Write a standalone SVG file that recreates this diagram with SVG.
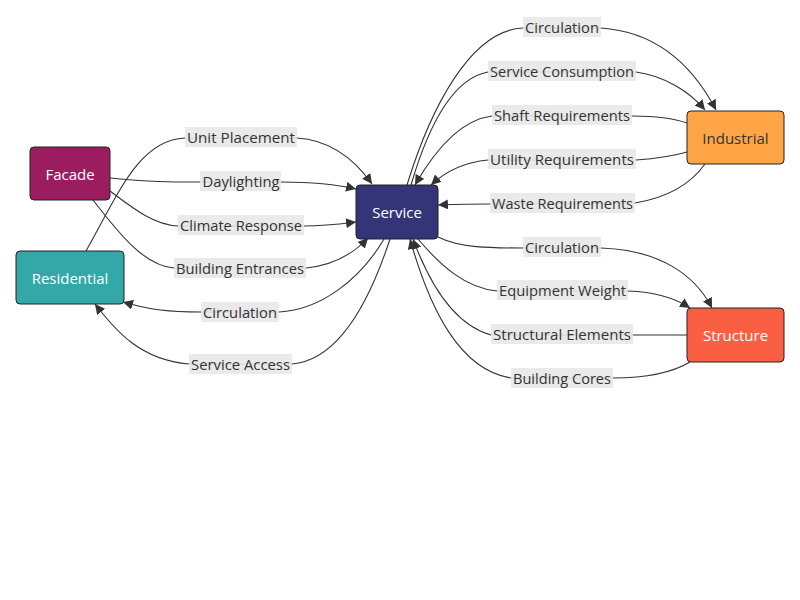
<svg xmlns="http://www.w3.org/2000/svg" width="800" height="600" viewBox="0 0 800 600">
<style>
.edge{fill:none;stroke:#333;stroke-width:1.1}
.lbl rect{fill:#e8e8e8;opacity:0.9}
.lbl text{font-family:"Open Sans","DejaVu Sans",sans-serif;font-size:15px;fill:#333;text-anchor:middle;dominant-baseline:central}
.node rect{stroke:#222;stroke-width:1}
.node text{font-family:"Open Sans","DejaVu Sans",sans-serif;font-size:15px;font-weight:500;text-anchor:middle;dominant-baseline:central;fill:#fff}
</style>
<defs>
<marker id="arr" viewBox="0 0 10 10" refX="10" refY="5" markerWidth="10" markerHeight="10" markerUnits="userSpaceOnUse" orient="auto">
<path d="M0,0 L10,5 L0,10 z" fill="#333"/>
</marker>
</defs>
<rect width="800" height="600" fill="#fff"/>
<g id="connectors">
<path class="edge" marker-end="url(#arr)" d="M86,251 C120,190 140,140 185,138 L297,138 C330,140 355,160 372,184"/>
<path class="edge" marker-end="url(#arr)" d="M110,178 C150,182 170,182 200,182 L281,182 C310,182 335,184 356,189"/>
<path class="edge" marker-end="url(#arr)" d="M110,191 C135,210 155,225 178,226 L304,226 C325,226 340,224 356,222"/>
<path class="edge" marker-end="url(#arr)" d="M93,200 C120,235 145,266 174,268 L306,268 C335,265 355,252 368,238"/>
<path class="edge" marker-end="url(#arr)" d="M384,239 C360,280 320,310 279,312 L201,312 C170,312 150,310 123,302"/>
<path class="edge" marker-end="url(#arr)" d="M390,239 C370,300 340,360 292,364 L189,364 C140,360 115,330 95,304"/>
<path class="edge" marker-end="url(#arr)" d="M407,185 C430,110 470,30 523,28 L601,28 C660,32 695,70 716,110"/>
<path class="edge" marker-end="url(#arr)" d="M411,185 C430,120 455,78 488,72 L636,72 C665,76 690,92 705,110"/>
<path class="edge" marker-end="url(#arr)" d="M687,123 C670,117 650,116 632,116 L492,116 C460,120 435,150 415,185"/>
<path class="edge" marker-end="url(#arr)" d="M687,152 C670,157 650,159 636,160 L488,160 C465,162 445,172 431,185"/>
<path class="edge" marker-end="url(#arr)" d="M705,164 C690,185 665,198 635,203 L490,204 C470,204 455,204 438,205"/>
<path class="edge" marker-end="url(#arr)" d="M438,237 C460,248 490,248 523,248 L601,248 C660,250 695,275 712,308"/>
<path class="edge" marker-end="url(#arr)" d="M418,239 C440,265 465,288 497,291 L628,291 C655,292 675,298 690,308"/>
<path class="edge" marker-end="url(#arr)" d="M687,335 L633,335 L491,335 C455,325 430,285 413,239"/>
<path class="edge" marker-end="url(#arr)" d="M690,362 C670,374 640,378 613,378 L511,378 C460,370 430,310 410,239"/>
</g>
<g class="lbl">
<g id="l1"><rect x="185" y="127" width="112" height="20"/><text x="241" y="137" textLength="108" lengthAdjust="spacingAndGlyphs">Unit Placement</text></g>
<g id="l2"><rect x="200" y="171" width="81" height="20"/><text x="241" y="181" textLength="77" lengthAdjust="spacingAndGlyphs">Daylighting</text></g>
<g id="l3"><rect x="178" y="215" width="126" height="20"/><text x="241" y="225" textLength="122" lengthAdjust="spacingAndGlyphs">Climate Response</text></g>
<g id="l4"><rect x="174" y="258" width="132" height="20"/><text x="240" y="268" textLength="128" lengthAdjust="spacingAndGlyphs">Building Entrances</text></g>
<g id="l5"><rect x="201" y="302" width="78" height="20"/><text x="240" y="312" textLength="74" lengthAdjust="spacingAndGlyphs">Circulation</text></g>
<g id="l6"><rect x="189" y="354" width="103" height="20"/><text x="240.5" y="364" textLength="99" lengthAdjust="spacingAndGlyphs">Service Access</text></g>
<g id="l7"><rect x="523" y="17" width="78" height="20"/><text x="562" y="27" textLength="74" lengthAdjust="spacingAndGlyphs">Circulation</text></g>
<g id="l8"><rect x="488" y="61" width="148" height="20"/><text x="562" y="71" textLength="144" lengthAdjust="spacingAndGlyphs">Service Consumption</text></g>
<g id="l9"><rect x="492" y="105" width="140" height="20"/><text x="562" y="115" textLength="136" lengthAdjust="spacingAndGlyphs">Shaft Requirements</text></g>
<g id="l10"><rect x="488" y="149" width="148" height="20"/><text x="562" y="159" textLength="144" lengthAdjust="spacingAndGlyphs">Utility Requirements</text></g>
<g id="l11"><rect x="490" y="193" width="145" height="20"/><text x="562.5" y="203" textLength="141" lengthAdjust="spacingAndGlyphs">Waste Requirements</text></g>
<g id="l12"><rect x="523" y="237" width="78" height="20"/><text x="562" y="247" textLength="74" lengthAdjust="spacingAndGlyphs">Circulation</text></g>
<g id="l13"><rect x="497" y="280" width="131" height="20"/><text x="562.5" y="290" textLength="127" lengthAdjust="spacingAndGlyphs">Equipment Weight</text></g>
<g id="l14"><rect x="491" y="324" width="142" height="20"/><text x="562" y="334" textLength="138" lengthAdjust="spacingAndGlyphs">Structural Elements</text></g>
<g id="l15"><rect x="511" y="368" width="102" height="20"/><text x="562" y="378" textLength="98" lengthAdjust="spacingAndGlyphs">Building Cores</text></g>
</g>
<g id="Facade" class="node"><rect x="30" y="147" width="80" height="53" rx="4" fill="#9b1d60"/><text x="70" y="173.5">Facade</text></g>
<g id="Residential" class="node"><rect x="16" y="251" width="108" height="53" rx="4" fill="#34a8a8"/><text x="70" y="277.5">Residential</text></g>
<g id="Service" class="node"><rect x="356" y="185" width="82" height="54" rx="4" fill="#343579"/><text x="397" y="212">Service</text></g>
<g id="Industrial" class="node"><rect x="687" y="111" width="97" height="53" rx="4" fill="#ffa546"/><text x="735.5" y="137.5" style="fill:#333;font-weight:400">Industrial</text></g>
<g id="Structure" class="node"><rect x="687" y="308" width="97" height="54" rx="4" fill="#fa5f43"/><text x="735.5" y="335">Structure</text></g>
</svg>
